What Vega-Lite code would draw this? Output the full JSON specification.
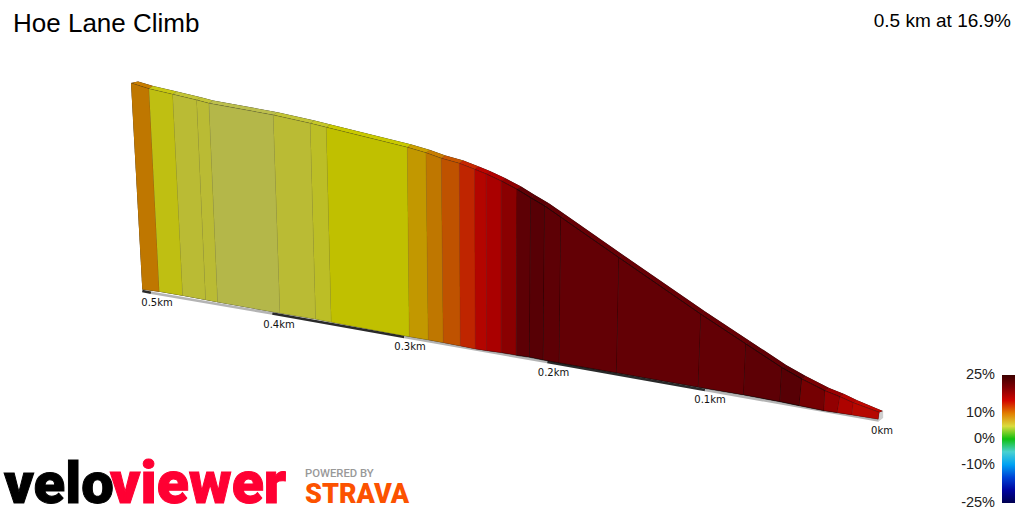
{"$schema":"https://vega.github.io/schema/vega-lite/v6.json","width":1024,"height":512,"padding":0,"autosize":{"type":"none"},"background":"white","config":{"view":{"stroke":null}},
"datasets":{
"base":[{"s":1,"k":"dark","x":142.3,"y":291},{"s":1,"k":"dark","x":151,"y":292.7},{"s":2,"k":"light","x":151,"y":292.7},{"s":2,"k":"light","x":272.3,"y":313.5},{"s":3,"k":"dark","x":272.3,"y":313.5},{"s":3,"k":"dark","x":404.3,"y":337},{"s":4,"k":"light","x":404.3,"y":337},{"s":4,"k":"light","x":547.3,"y":362},{"s":5,"k":"dark","x":547.3,"y":362},{"s":5,"k":"dark","x":705,"y":390},{"s":6,"k":"light","x":705,"y":390},{"s":6,"k":"light","x":878.7,"y":420.5}],
"cap":[{"o":1,"x":879.3,"y":412.3},{"o":2,"x":882.7,"y":411},{"o":3,"x":882.7,"y":418},{"o":4,"x":878.5,"y":421}],
"tops":[
{"s":0,"o":1,"x":131,"y":83,"g":9.5},{"s":0,"o":2,"x":149,"y":88.7,"g":9.5},{"s":0,"o":3,"x":153,"y":85.9,"g":9.5},{"s":0,"o":4,"x":138,"y":81.5,"g":9.5},
{"s":1,"o":1,"x":149,"y":88.7,"g":6},{"s":1,"o":2,"x":172.7,"y":94.3,"g":6},{"s":1,"o":3,"x":176.7,"y":91.5,"g":6},{"s":1,"o":4,"x":153,"y":85.9,"g":6},
{"s":2,"o":1,"x":172.7,"y":94.3,"g":5},{"s":2,"o":2,"x":196.7,"y":100,"g":5},{"s":2,"o":3,"x":200.7,"y":97.2,"g":5},{"s":2,"o":4,"x":176.7,"y":91.5,"g":5},
{"s":3,"o":1,"x":196.7,"y":100,"g":5},{"s":3,"o":2,"x":209,"y":103.3,"g":5},{"s":3,"o":3,"x":213,"y":100.5,"g":5},{"s":3,"o":4,"x":200.7,"y":97.2,"g":5},
{"s":4,"o":1,"x":209,"y":103.3,"g":4},{"s":4,"o":2,"x":273.3,"y":115,"g":4},{"s":4,"o":3,"x":277.3,"y":112.2,"g":4},{"s":4,"o":4,"x":213,"y":100.5,"g":4},
{"s":5,"o":1,"x":273.3,"y":115,"g":5},{"s":5,"o":2,"x":310.3,"y":123.3,"g":5},{"s":5,"o":3,"x":314.3,"y":120.5,"g":5},{"s":5,"o":4,"x":277.3,"y":112.2,"g":5},
{"s":6,"o":1,"x":310.3,"y":123.3,"g":5.5},{"s":6,"o":2,"x":326.3,"y":127.3,"g":5.5},{"s":6,"o":3,"x":330.3,"y":124.5,"g":5.5},{"s":6,"o":4,"x":314.3,"y":120.5,"g":5.5},
{"s":7,"o":1,"x":326.3,"y":127.3,"g":6.2},{"s":7,"o":2,"x":407.3,"y":147.3,"g":6.2},{"s":7,"o":3,"x":411.3,"y":144.5,"g":6.2},{"s":7,"o":4,"x":330.3,"y":124.5,"g":6.2},
{"s":8,"o":1,"x":407.3,"y":147.3,"g":8},{"s":8,"o":2,"x":426,"y":152.7,"g":8},{"s":8,"o":3,"x":430,"y":149.9,"g":8},{"s":8,"o":4,"x":411.3,"y":144.5,"g":8},
{"s":9,"o":1,"x":426,"y":152.7,"g":9.5},{"s":9,"o":2,"x":441.3,"y":158.3,"g":9.5},{"s":9,"o":3,"x":445.3,"y":155.5,"g":9.5},{"s":9,"o":4,"x":430,"y":149.9,"g":9.5},
{"s":10,"o":1,"x":441.3,"y":158.3,"g":11},{"s":10,"o":2,"x":459.3,"y":163.3,"g":11},{"s":10,"o":3,"x":463.3,"y":160.5,"g":11},{"s":10,"o":4,"x":445.3,"y":155.5,"g":11},
{"s":11,"o":1,"x":459.3,"y":163.3,"g":13},{"s":11,"o":2,"x":474.7,"y":169.3,"g":13},{"s":11,"o":3,"x":478.7,"y":166.5,"g":13},{"s":11,"o":4,"x":463.3,"y":160.5,"g":13},
{"s":12,"o":1,"x":474.7,"y":169.3,"g":15},{"s":12,"o":2,"x":486.3,"y":174,"g":15},{"s":12,"o":3,"x":490.3,"y":171.2,"g":15},{"s":12,"o":4,"x":478.7,"y":166.5,"g":15},
{"s":13,"o":1,"x":486.3,"y":174,"g":16},{"s":13,"o":2,"x":501.3,"y":181,"g":16},{"s":13,"o":3,"x":505.3,"y":178.2,"g":16},{"s":13,"o":4,"x":490.3,"y":171.2,"g":16},
{"s":14,"o":1,"x":501.3,"y":181,"g":18},{"s":14,"o":2,"x":517,"y":189.3,"g":18},{"s":14,"o":3,"x":521,"y":186.5,"g":18},{"s":14,"o":4,"x":505.3,"y":178.2,"g":18},
{"s":15,"o":1,"x":517,"y":189.3,"g":21.5},{"s":15,"o":2,"x":530.7,"y":197.7,"g":21.5},{"s":15,"o":3,"x":534.7,"y":194.9,"g":21.5},{"s":15,"o":4,"x":521,"y":186.5,"g":21.5},
{"s":16,"o":1,"x":530.7,"y":197.7,"g":22},{"s":16,"o":2,"x":544.7,"y":206,"g":22},{"s":16,"o":3,"x":548.7,"y":203.2,"g":22},{"s":16,"o":4,"x":534.7,"y":194.9,"g":22},
{"s":17,"o":1,"x":544.7,"y":206,"g":21.5},{"s":17,"o":2,"x":561,"y":217.3,"g":21.5},{"s":17,"o":3,"x":565,"y":214.5,"g":21.5},{"s":17,"o":4,"x":548.7,"y":203.2,"g":21.5},
{"s":18,"o":1,"x":561,"y":217.3,"g":21},{"s":18,"o":2,"x":619,"y":257.7,"g":21},{"s":18,"o":3,"x":623,"y":254.9,"g":21},{"s":18,"o":4,"x":565,"y":214.5,"g":21},
{"s":19,"o":1,"x":619,"y":257.7,"g":21},{"s":19,"o":2,"x":701,"y":314.3,"g":21},{"s":19,"o":3,"x":705,"y":311.5,"g":21},{"s":19,"o":4,"x":623,"y":254.9,"g":21},
{"s":20,"o":1,"x":701,"y":314.3,"g":21},{"s":20,"o":2,"x":746,"y":344,"g":21},{"s":20,"o":3,"x":750,"y":341.2,"g":21},{"s":20,"o":4,"x":705,"y":311.5,"g":21},
{"s":21,"o":1,"x":746,"y":344,"g":21.5},{"s":21,"o":2,"x":782,"y":367.7,"g":21.5},{"s":21,"o":3,"x":786,"y":364.9,"g":21.5},{"s":21,"o":4,"x":750,"y":341.2,"g":21.5},
{"s":22,"o":1,"x":782,"y":367.7,"g":22},{"s":22,"o":2,"x":802,"y":379,"g":22},{"s":22,"o":3,"x":806,"y":376.2,"g":22},{"s":22,"o":4,"x":786,"y":364.9,"g":22},
{"s":23,"o":1,"x":802,"y":379,"g":19.5},{"s":23,"o":2,"x":825,"y":390.7,"g":19.5},{"s":23,"o":3,"x":829,"y":387.9,"g":19.5},{"s":23,"o":4,"x":806,"y":376.2,"g":19.5},
{"s":24,"o":1,"x":825,"y":390.7,"g":17.5},{"s":24,"o":2,"x":840,"y":396.7,"g":17.5},{"s":24,"o":3,"x":844,"y":393.9,"g":17.5},{"s":24,"o":4,"x":829,"y":387.9,"g":17.5},
{"s":25,"o":1,"x":840,"y":396.7,"g":15.5},{"s":25,"o":2,"x":853.3,"y":402.7,"g":15.5},{"s":25,"o":3,"x":857,"y":400.2,"g":15.5},{"s":25,"o":4,"x":844,"y":393.9,"g":15.5},
{"s":26,"o":1,"x":853.3,"y":402.7,"g":14.5},{"s":26,"o":2,"x":879.3,"y":412.3,"g":14.5},{"s":26,"o":3,"x":882.7,"y":411,"g":14.5},{"s":26,"o":4,"x":857,"y":400.2,"g":14.5}
],
"faces":[
{"s":0,"o":1,"x":131,"y":83,"g":9.5},{"s":0,"o":2,"x":149,"y":88.7,"g":9.5},{"s":0,"o":3,"x":159.3,"y":291.7,"g":9.5},{"s":0,"o":4,"x":142.3,"y":289.5,"g":9.5},
{"s":1,"o":1,"x":149,"y":88.7,"g":6},{"s":1,"o":2,"x":172.7,"y":94.3,"g":6},{"s":1,"o":3,"x":182.7,"y":295.7,"g":6},{"s":1,"o":4,"x":159.3,"y":291.7,"g":6},
{"s":2,"o":1,"x":172.7,"y":94.3,"g":5},{"s":2,"o":2,"x":196.7,"y":100,"g":5},{"s":2,"o":3,"x":205.7,"y":300,"g":5},{"s":2,"o":4,"x":182.7,"y":295.7,"g":5},
{"s":3,"o":1,"x":196.7,"y":100,"g":5},{"s":3,"o":2,"x":209,"y":103.3,"g":5},{"s":3,"o":3,"x":217.7,"y":302.3,"g":5},{"s":3,"o":4,"x":205.7,"y":300,"g":5},
{"s":4,"o":1,"x":209,"y":103.3,"g":4},{"s":4,"o":2,"x":273.3,"y":115,"g":4},{"s":4,"o":3,"x":280,"y":313.3,"g":4},{"s":4,"o":4,"x":217.7,"y":302.3,"g":4},
{"s":5,"o":1,"x":273.3,"y":115,"g":5},{"s":5,"o":2,"x":310.3,"y":123.3,"g":5},{"s":5,"o":3,"x":315.7,"y":319.3,"g":5},{"s":5,"o":4,"x":280,"y":313.3,"g":5},
{"s":6,"o":1,"x":310.3,"y":123.3,"g":5.5},{"s":6,"o":2,"x":326.3,"y":127.3,"g":5.5},{"s":6,"o":3,"x":331.3,"y":322.3,"g":5.5},{"s":6,"o":4,"x":315.7,"y":319.3,"g":5.5},
{"s":7,"o":1,"x":326.3,"y":127.3,"g":6.2},{"s":7,"o":2,"x":407.3,"y":147.3,"g":6.2},{"s":7,"o":3,"x":409.3,"y":336.7,"g":6.2},{"s":7,"o":4,"x":331.3,"y":322.3,"g":6.2},
{"s":8,"o":1,"x":407.3,"y":147.3,"g":8},{"s":8,"o":2,"x":426,"y":152.7,"g":8},{"s":8,"o":3,"x":428.3,"y":340,"g":8},{"s":8,"o":4,"x":409.3,"y":336.7,"g":8},
{"s":9,"o":1,"x":426,"y":152.7,"g":9.5},{"s":9,"o":2,"x":441.3,"y":158.3,"g":9.5},{"s":9,"o":3,"x":443.3,"y":342.7,"g":9.5},{"s":9,"o":4,"x":428.3,"y":340,"g":9.5},
{"s":10,"o":1,"x":441.3,"y":158.3,"g":11},{"s":10,"o":2,"x":459.3,"y":163.3,"g":11},{"s":10,"o":3,"x":460.3,"y":346,"g":11},{"s":10,"o":4,"x":443.3,"y":342.7,"g":11},
{"s":11,"o":1,"x":459.3,"y":163.3,"g":13},{"s":11,"o":2,"x":474.7,"y":169.3,"g":13},{"s":11,"o":3,"x":475.3,"y":349,"g":13},{"s":11,"o":4,"x":460.3,"y":346,"g":13},
{"s":12,"o":1,"x":474.7,"y":169.3,"g":15},{"s":12,"o":2,"x":486.3,"y":174,"g":15},{"s":12,"o":3,"x":486.7,"y":350.7,"g":15},{"s":12,"o":4,"x":475.3,"y":349,"g":15},
{"s":13,"o":1,"x":486.3,"y":174,"g":16},{"s":13,"o":2,"x":501.3,"y":181,"g":16},{"s":13,"o":3,"x":501.3,"y":352.7,"g":16},{"s":13,"o":4,"x":486.7,"y":350.7,"g":16},
{"s":14,"o":1,"x":501.3,"y":181,"g":18},{"s":14,"o":2,"x":517,"y":189.3,"g":18},{"s":14,"o":3,"x":516.3,"y":355.3,"g":18},{"s":14,"o":4,"x":501.3,"y":352.7,"g":18},
{"s":15,"o":1,"x":517,"y":189.3,"g":21.5},{"s":15,"o":2,"x":530.7,"y":197.7,"g":21.5},{"s":15,"o":3,"x":529.7,"y":357.3,"g":21.5},{"s":15,"o":4,"x":516.3,"y":355.3,"g":21.5},
{"s":16,"o":1,"x":530.7,"y":197.7,"g":22},{"s":16,"o":2,"x":544.7,"y":206,"g":22},{"s":16,"o":3,"x":543.3,"y":360,"g":22},{"s":16,"o":4,"x":529.7,"y":357.3,"g":22},
{"s":17,"o":1,"x":544.7,"y":206,"g":21.5},{"s":17,"o":2,"x":561,"y":217.3,"g":21.5},{"s":17,"o":3,"x":559.3,"y":363,"g":21.5},{"s":17,"o":4,"x":543.3,"y":360,"g":21.5},
{"s":18,"o":1,"x":561,"y":217.3,"g":21},{"s":18,"o":2,"x":619,"y":257.7,"g":21},{"s":18,"o":3,"x":616.7,"y":373,"g":21},{"s":18,"o":4,"x":559.3,"y":363,"g":21},
{"s":19,"o":1,"x":619,"y":257.7,"g":21},{"s":19,"o":2,"x":701,"y":314.3,"g":21},{"s":19,"o":3,"x":698.3,"y":387.3,"g":21},{"s":19,"o":4,"x":616.7,"y":373,"g":21},
{"s":20,"o":1,"x":701,"y":314.3,"g":21},{"s":20,"o":2,"x":746,"y":344,"g":21},{"s":20,"o":3,"x":743.7,"y":395,"g":21},{"s":20,"o":4,"x":698.3,"y":387.3,"g":21},
{"s":21,"o":1,"x":746,"y":344,"g":21.5},{"s":21,"o":2,"x":782,"y":367.7,"g":21.5},{"s":21,"o":3,"x":780,"y":401.7,"g":21.5},{"s":21,"o":4,"x":743.7,"y":395,"g":21.5},
{"s":22,"o":1,"x":782,"y":367.7,"g":22},{"s":22,"o":2,"x":802,"y":379,"g":22},{"s":22,"o":3,"x":799.3,"y":405.7,"g":22},{"s":22,"o":4,"x":780,"y":401.7,"g":22},
{"s":23,"o":1,"x":802,"y":379,"g":19.5},{"s":23,"o":2,"x":825,"y":390.7,"g":19.5},{"s":23,"o":3,"x":824,"y":410.7,"g":19.5},{"s":23,"o":4,"x":799.3,"y":405.7,"g":19.5},
{"s":24,"o":1,"x":825,"y":390.7,"g":17.5},{"s":24,"o":2,"x":840,"y":396.7,"g":17.5},{"s":24,"o":3,"x":837.3,"y":412.7,"g":17.5},{"s":24,"o":4,"x":824,"y":410.7,"g":17.5},
{"s":25,"o":1,"x":840,"y":396.7,"g":15.5},{"s":25,"o":2,"x":853.3,"y":402.7,"g":15.5},{"s":25,"o":3,"x":852,"y":415,"g":15.5},{"s":25,"o":4,"x":837.3,"y":412.7,"g":15.5},
{"s":26,"o":1,"x":853.3,"y":402.7,"g":14.5},{"s":26,"o":2,"x":879.3,"y":412.3,"g":14.5},{"s":26,"o":3,"x":878.3,"y":419.3,"g":14.5},{"s":26,"o":4,"x":852,"y":415,"g":14.5}
]},
"layer":[
{"data":{"name":"base"},"mark":{"type":"line","strokeWidth":2.6,"strokeCap":"butt"},"encoding":{"x":{"field":"x","type":"quantitative","scale":{"domain":[0,1024],"nice":false,"zero":false},"axis":null},"y":{"field":"y","type":"quantitative","scale":{"domain":[512,0],"nice":false,"zero":false},"axis":null},"detail":{"field":"s"},"stroke":{"field":"k","type":"nominal","scale":{"domain":["dark","light"],"range":["#2a2a2a","#b4b4b4"]},"legend":null}}},
{"data":{"name":"cap"},"mark":{"type":"line","fill":"#cfcfcf","stroke":"#bbbbbb","strokeWidth":0.5},"encoding":{"x":{"field":"x","type":"quantitative","axis":null},"y":{"field":"y","type":"quantitative","axis":null},"order":{"field":"o"}}},
{"data":{"name":"tops"},"mark":{"type":"line","fill":"#000000","strokeWidth":0},"encoding":{"x":{"field":"x","type":"quantitative","axis":null},"y":{"field":"y","type":"quantitative","axis":null},"detail":{"field":"s"},"order":{"field":"o"}}},
{"data":{"name":"tops"},"mark":{"type":"line","strokeWidth":0.3,"stroke":"#000000","strokeOpacity":0.15,"fillOpacity":0.89},"encoding":{"x":{"field":"x","type":"quantitative","axis":null},"y":{"field":"y","type":"quantitative","axis":null},"detail":{"field":"s"},"order":{"field":"o"},"fill":{"field":"g","type":"quantitative","scale":{"domain":[-25,-18,-13,-6.5,-2.5,0,1.5,3.5,6.2,9,11,13.5,16,19,25],"range":["#000050","#0000c0","#0060e0","#00e0e0","#70b8b8","#10c010","#40c040","#d0d460","#e2e200","#e09a00","#e06000","#e01000","#c80000","#900000","#3c0000"]},"legend":{"title":null,"orient":"none","legendX":1002,"legendY":375,"padding":0,"gradientLength":128,"gradientThickness":13,"gradientStrokeWidth":0,"values":[25,10,0,-10,-25],"labelExpr":"datum.value + '%'","labelOffset":-20,"labelFont":"Liberation Sans","labelFontSize":14.5,"labelColor":"#222222","labelOverlap":false,"encoding":{"labels":{"align":{"value":"right"},"baseline":{"value":"middle"}}}}}}},
{"data":{"name":"faces"},"mark":{"type":"line","fill":"#000000","strokeWidth":0},"encoding":{"x":{"field":"x","type":"quantitative","axis":null},"y":{"field":"y","type":"quantitative","axis":null},"detail":{"field":"s"},"order":{"field":"o"}}},
{"data":{"name":"faces"},"mark":{"type":"line","fillOpacity":0.85,"strokeWidth":0.8,"stroke":"#000000"},"encoding":{"x":{"field":"x","type":"quantitative","axis":null},"y":{"field":"y","type":"quantitative","axis":null},"detail":{"field":"s"},"order":{"field":"o"},"fill":{"field":"g","type":"quantitative"},"strokeOpacity":{"field":"g","type":"quantitative","scale":{"domain":[5,14,22],"range":[0.12,0.15,0.75]},"legend":null}}},
{"data":{"values":[{"t":"Hoe Lane Climb","x":13,"y":32}]},"mark":{"type":"text","font":"Liberation Sans","fontSize":26,"align":"left","baseline":"alphabetic","fill":"#000000"},"encoding":{"x":{"field":"x","type":"quantitative"},"y":{"field":"y","type":"quantitative"},"text":{"field":"t"}}},
{"data":{"values":[{"t":"0.5 km at 16.9%","x":1011,"y":27}]},"mark":{"type":"text","font":"Liberation Sans","fontSize":19,"align":"right","baseline":"alphabetic","fill":"#000000"},"encoding":{"x":{"field":"x","type":"quantitative"},"y":{"field":"y","type":"quantitative"},"text":{"field":"t"}}},
{"data":{"values":[{"t":"0.5km","x":157,"y":303},{"t":"0.4km","x":279,"y":324.5},{"t":"0.3km","x":410,"y":347},{"t":"0.2km","x":553.5,"y":373},{"t":"0.1km","x":710,"y":400},{"t":"0km","x":882,"y":431}]},"mark":{"type":"text","font":"DejaVu Sans","fontSize":10,"align":"center","baseline":"middle","fill":"#111111"},"encoding":{"x":{"field":"x","type":"quantitative"},"y":{"field":"y","type":"quantitative"},"text":{"field":"t"}}},
{"data":{"values":[{"t":"velo","x":4,"y":503}]},"mark":{"type":"text","font":"Roboto","fontWeight":900,"fontSize":58,"align":"left","baseline":"alphabetic","fill":"#000000","stroke":"#000000","strokeWidth":1},"encoding":{"x":{"field":"x","type":"quantitative"},"y":{"field":"y","type":"quantitative"},"text":{"field":"t"}}},
{"data":{"values":[{"t":"viewer","x":110,"y":503}]},"mark":{"type":"text","font":"Roboto","fontWeight":900,"fontSize":59,"align":"left","baseline":"alphabetic","fill":"#ff0033","stroke":"#ff0033","strokeWidth":1},"encoding":{"x":{"field":"x","type":"quantitative"},"y":{"field":"y","type":"quantitative"},"text":{"field":"t"}}},
{"data":{"values":[{"t":"POWERED BY","x":305,"y":477}]},"mark":{"type":"text","font":"Roboto","fontWeight":500,"fontSize":11.3,"align":"left","baseline":"alphabetic","fill":"#999999"},"encoding":{"x":{"field":"x","type":"quantitative"},"y":{"field":"y","type":"quantitative"},"text":{"field":"t"}}},
{"data":{"values":[{"t":"STRAVA","x":305,"y":503}]},"mark":{"type":"text","font":"Roboto","fontWeight":900,"fontSize":27,"align":"left","baseline":"alphabetic","fill":"#fc5200"},"encoding":{"x":{"field":"x","type":"quantitative"},"y":{"field":"y","type":"quantitative"},"text":{"field":"t"}}}
],
"resolve":{"scale":{"fill":"shared","stroke":"independent"}}}
